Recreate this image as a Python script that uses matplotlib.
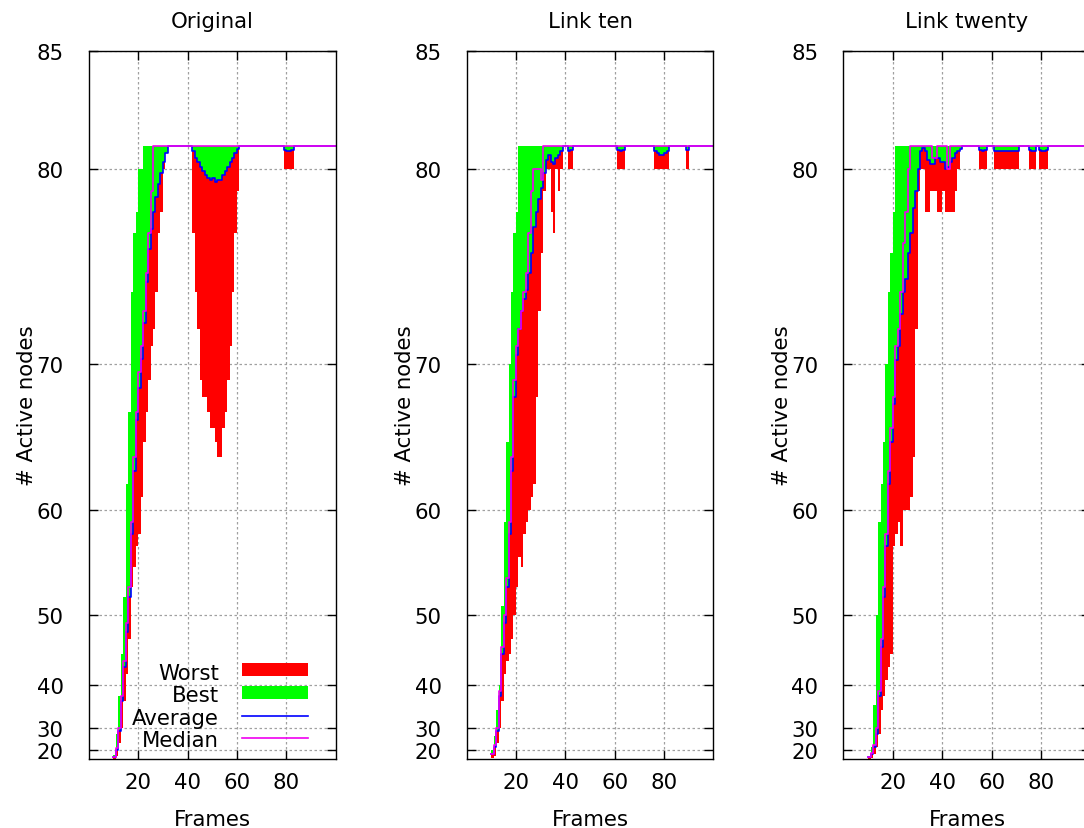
import numpy as np
import matplotlib
matplotlib.use("Agg")
import matplotlib.pyplot as plt
from matplotlib.patches import Rectangle
from matplotlib.lines import Line2D
from matplotlib.ticker import NullLocator

plt.rcParams['font.family'] = 'DejaVu Sans'
plt.rcParams['font.size'] = 15.3

FULL = 81          # all nodes active
frames = np.arange(10, 101)

# ---- Original: start-up ramp from frame 10, then drops below full activity
orig_worst = [7, 14, 24, 30, 37, 42, 47, 53, 55, 57, 58, 61, 65, 67, 69, 71, 72, 74, 77, 78, 80, 81, 81]
orig_best = [15, 28, 38, 45, 52, 62, 67, 74, 77, 78, 80, 80, 81]
orig_avg = [11, 20, 29, 37, 43, 48, 52, 58, 63, 66.5, 68.5, 70.3, 72.3, 74.5, 76.2, 77.2, 78,
            78.7, 79.3, 79.8, 80.3, 80.7, 81]
orig_median = [11, 21, 30, 38, 44, 49, 53, 59, 64, 67, 69.5, 71, 73, 75, 77, 79, 81]
orig_dip_start = [42, 79]
orig_dip_worst = [[77, 74, 72, 69, 68, 68, 67, 66, 66, 65, 64, 64, 66, 67, 69, 71, 74, 77, 79],
                  [80, 80, 80, 80]]
orig_dip_avg = [[80.8, 80.5, 80.3, 80.1, 79.9, 79.7, 79.6, 79.5, 79.6, 79.4, 79.5, 79.5, 79.7,
                 79.9, 80.1, 80.3, 80.5, 80.7, 80.9],
                [80.85, 80.8, 80.8, 80.85]]

# ---- Link ten
ten_worst = [8, 14, 24, 30, 37, 42, 44, 45, 47, 50, 53, 56, 55, 58, 59, 60, 61, 62, 68, 73, 76,
             79, 80, 80, 78, 77, 80, 79, 80]
ten_best = [20, 27, 35, 40, 51, 59, 65, 70, 74, 77, 78, 81]
ten_avg = [16, 22, 29, 38, 45, 49, 53, 58, 63, 68, 70.5, 72, 73, 73.6, 74.1, 75, 76, 77.3, 78,
           78.6, 79.1, 79.8, 80.4, 80.6, 80.3, 80.2, 80.5, 80.6, 80.8]
ten_median = [16, 23, 30, 39, 46, 50, 54, 59, 64, 69, 71, 72, 73, 74, 75, 77, 79, 80, 80, 80,
              79.5, 81]
ten_dip_start = [41, 61, 76, 89]
ten_dip_worst = [[80, 80], [80, 80, 80], [80, 80, 80, 80, 80, 80], [80]]
ten_dip_avg = [[80.8, 80.85], [80.85, 80.8, 80.85], [80.8, 80.7, 80.6, 80.6, 80.7, 80.8], [80.85]]

# ---- Link twenty
twenty_worst = [7, 10, 16, 22, 28, 35, 38, 41, 43, 45, 57, 58, 59, 57, 60, 60, 60, 61, 64, 72,
                79, 80, 80, 78, 78, 79, 79, 79, 78, 78, 79, 78, 78, 78, 78, 79, 80]
twenty_best = [14, 22, 36, 50, 59, 62, 65, 70, 74, 76, 78, 81]
twenty_avg = [11, 16, 22, 28, 38, 46, 52, 57, 62, 65, 67.5, 70.2, 71, 72.8, 74, 74.7, 76, 77,
              78.2, 79, 80, 80.8, 80.95, 80.8, 80.4, 80.2, 80.2, 80.5, 80.5, 80.3, 80.3, 80.0,
              80.1, 80.3, 80.5, 80.7, 80.8, 80.9]
twenty_median = [11, 17, 23, 30, 39, 47, 53, 58, 63, 66, 68, 71, 72, 74, 76.5, 78, 80, 81, 81,
                 81, 81, 81, 81, 81, 81, 81, 80.5, 80.5, 81, 81, 81, 81, 80, 81]
twenty_dip_start = [55, 61, 75, 79]
twenty_dip_worst = [[80] * 3, [80] * 10, [80] * 3, [80] * 4]
twenty_dip_avg = [[80.85, 80.8, 80.85], [80.8] * 10, [80.85, 80.8, 80.8], [80.85, 80.8, 80.8, 80.85]]


def build(ramp, dip_start=(), dip_vals=()):
    s = np.full(frames.size, float(FULL))
    s[:len(ramp)] = ramp
    for f0, vals in zip(dip_start, dip_vals):
        i = f0 - frames[0]
        s[i:i + len(vals)] = vals
    return s


panels = [
    ("Original", build(orig_worst, orig_dip_start, orig_dip_worst), build(orig_best),
     build(orig_avg, orig_dip_start, orig_dip_avg), build(orig_median)),
    ("Link ten", build(ten_worst, ten_dip_start, ten_dip_worst), build(ten_best),
     build(ten_avg, ten_dip_start, ten_dip_avg), build(ten_median)),
    ("Link twenty", build(twenty_worst, twenty_dip_start, twenty_dip_worst), build(twenty_best),
     build(twenty_avg, twenty_dip_start, twenty_dip_avg), build(twenty_median)),
]

RED, GREEN, BLUE, MAGENTA = '#ff0000', '#00ff00', '#0000ff', '#f000f0'

fig = plt.figure(figsize=(10.84, 8.29), dpi=100)
lefts = [0.0819, 0.4304, 0.7781]

for left, (title, worst, best, avg, median) in zip(lefts, panels):
    ax = fig.add_axes([left, 0.0832, 0.2278, 0.8540])
    # cubic y axis, stretches the region near full activity
    ax.set_yscale('function', functions=(lambda v: np.sign(v) * np.abs(v) ** 3, np.cbrt))
    ax.fill_between(frames, worst, avg, step='post', color=RED, lw=0)
    ax.fill_between(frames, avg, best, step='post', color=GREEN, lw=0)
    ax.step(frames, avg, where='post', color=BLUE, lw=1.2)
    ax.step(frames, median, where='post', color=MAGENTA, lw=1.2)

    ax.set_xlim(0, 100)
    ax.set_ylim(0, 85)
    ax.set_xticks([20, 40, 60, 80])
    ax.set_yticks([20, 30, 40, 50, 60, 70, 80, 85])
    ax.yaxis.set_minor_locator(NullLocator())
    ax.xaxis.set_minor_locator(NullLocator())
    ax.tick_params(direction='in', top=True, right=True, length=6.5, width=1)
    ax.tick_params(axis='y', pad=18)
    ax.tick_params(axis='x', pad=9)
    ax.set_axisbelow(True)
    ax.grid(True, color='#a0a0a0', linestyle=(0, (2, 2)), linewidth=0.9)
    for sp in ax.spines.values():
        sp.set_linewidth(1.0)

    ax.text(0.5, 1.0346, title, transform=ax.transAxes, ha='center', va='baseline')
    ax.text(0.5, -0.093, 'Frames', transform=ax.transAxes, ha='center', va='baseline')
    ax.text(-0.25, 0.5, '# Active nodes', transform=ax.transAxes, ha='center', va='center',
            rotation=90)

    if title == "Original":
        labels = ['Worst', 'Best', 'Average', 'Median']
        base = [0.1126, 0.0815, 0.0490, 0.0179]
        mid = [0.1267, 0.0942, 0.0612, 0.0292]
        x0, x1 = 0.6214, 0.8893
        for lab, b in zip(labels, base):
            ax.text(0.527, b, lab, transform=ax.transAxes, ha='right', va='baseline')
        for y, c in zip(mid[:2], [RED, GREEN]):
            ax.add_patch(Rectangle((x0, y - 0.0088), x1 - x0, 0.0177, transform=ax.transAxes,
                                   color=c, lw=0, clip_on=False))
        for y, c in zip(mid[2:], [BLUE, MAGENTA]):
            ax.add_line(Line2D([x0, x1], [y, y], transform=ax.transAxes, color=c, lw=1.2))

fig.savefig('out.png', dpi=100)
